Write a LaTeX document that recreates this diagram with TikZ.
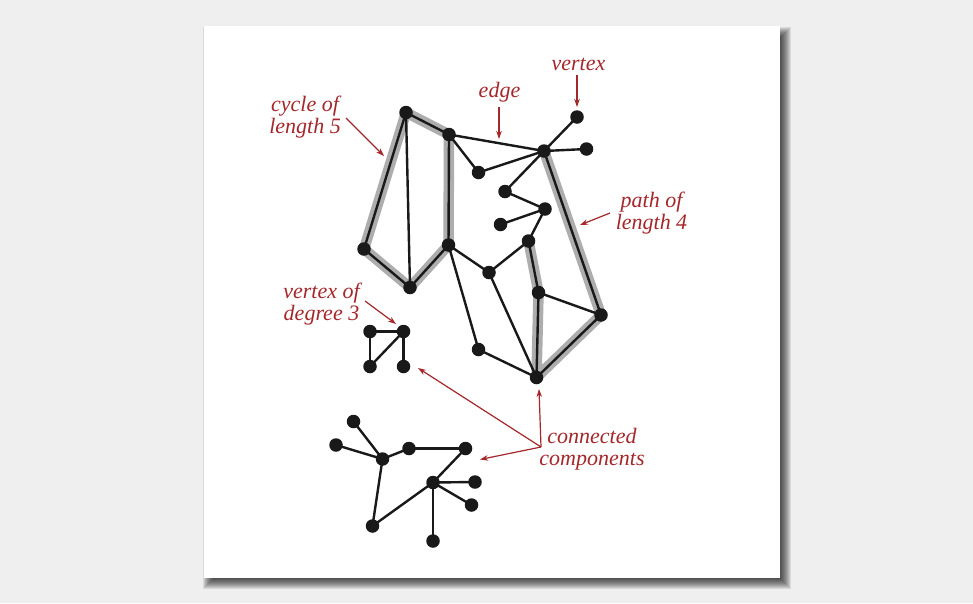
\documentclass[tikz,border=0pt]{standalone}
\usepackage{fontspec}
\setmainfont{Liberation Serif}
\usetikzlibrary{arrows.meta}
\definecolor{pagebg}{HTML}{EFEFEF}
\definecolor{labelred}{HTML}{A3272B}
\definecolor{hlgray}{HTML}{ADADAD}
\pgfdeclarelayer{bg}
\pgfdeclarelayer{hl}
\pgfdeclarelayer{edgelayer}
\pgfsetlayers{bg,hl,edgelayer,main}
\tikzset{
  dot/.style={circle,fill=black!90,inner sep=0pt,minimum size=13.5pt},
  edge/.style={line width=2.4pt,black!90,line cap=round},
  highlight/.style={line width=10.5pt,hlgray,line cap=round,line join=round},
  lbl/.style={text=labelred,align=center,font=\fontsize{22}{22}\selectfont\itshape,inner sep=0pt},
  pointer/.style={labelred,line width=1.2pt,-{Stealth[length=8pt,width=5.5pt]}}
}
\begin{document}
\begin{tikzpicture}[x=1pt,y=-1pt]
\useasboundingbox (0,0) rectangle (973,603);
\begin{pgfonlayer}{bg}
  \fill[pagebg] (0,0) rectangle (973,603);
  % soft drop shadow of the white panel
  \foreach \d in {-4,-3,...,7}{
    \fill[black,opacity=0.09] (204+6-\d,26+8-\d) rectangle (780+4+\d,578+4+\d);
  }
  \fill[white] (204,26) rectangle (780,578);
\end{pgfonlayer}

% main component
\node[dot] (A) at (406,112.5) {};
\node[dot] (B) at (449,134.5) {};
\node[dot] (C) at (364,249) {};
\node[dot] (D) at (410,287.5) {};
\node[dot] (E) at (448.5,245) {};
\node[dot] (F) at (544,151) {};
\node[dot] (G) at (577,117) {};
\node[dot] (H) at (586.5,149) {};
\node[dot] (I) at (478.5,172.5) {};
\node[dot] (J) at (505,191.5) {};
\node[dot] (K) at (545,209) {};
\node[dot] (L) at (500.5,224.5) {};
\node[dot] (M) at (528.5,241) {};
\node[dot] (N) at (489,272.5) {};
\node[dot] (O) at (538.5,292.5) {};
\node[dot] (P) at (601,315) {};
\node[dot] (Q) at (478.5,349.5) {};
\node[dot] (R) at (536.5,377.5) {};

% small component
\node[dot] (S1) at (370,331.5) {};
\node[dot] (S2) at (403.5,331.5) {};
\node[dot] (S3) at (370,366.5) {};
\node[dot] (S4) at (403.5,366.5) {};

% tree component
\node[dot] (T1) at (353.5,421.5) {};
\node[dot] (T2) at (336,445) {};
\node[dot] (T3) at (382.5,459) {};
\node[dot] (T4) at (409,448.5) {};
\node[dot] (T5) at (465.5,448.5) {};
\node[dot] (T6) at (433,482.5) {};
\node[dot] (T7) at (475,482) {};
\node[dot] (T8) at (471.5,505) {};
\node[dot] (T9) at (372.5,526) {};
\node[dot] (T10) at (433,541) {};

\begin{pgfonlayer}{hl}
  % cycle of length 5
  \draw[highlight] (A.center) -- (B.center) -- (E.center) -- (D.center) -- (C.center) -- cycle;
  % path of length 4
  \draw[highlight] (F.center) -- (P.center) -- (R.center) -- (O.center) -- (M.center);
\end{pgfonlayer}

\begin{pgfonlayer}{edgelayer}
  \foreach \u/\v in {A/B,A/C,A/D,C/D,D/E,E/B,B/F,B/I,I/F,F/G,F/H,F/J,J/K,K/L,K/M,
                     M/N,N/E,E/Q,Q/R,N/R,M/O,O/R,O/P,F/P,P/R,
                     S1/S2,S1/S3,S2/S3,S2/S4,
                     T1/T3,T2/T3,T3/T4,T4/T5,T5/T6,T6/T7,T6/T8,T6/T10,T6/T9,T9/T3}
    \draw[edge] (\u.center) -- (\v.center);
\end{pgfonlayer}

% labels
\node[lbl] (cyc) at (305,117) {cycle of\\length 5};
\node[lbl,anchor=base] (edg) at (499.5,97) {edge};
\node[lbl,anchor=base] (vtx) at (578.5,70) {vertex};
\node[lbl] (pth) at (651.5,213) {path of\\length 4};
\node[lbl] (deg) at (321.5,304) {vertex of\\degree 3};
\node[lbl] (cc) at (592,449) {connected\\components};

% pointers
\coordinate (cycS) at (346,118);
\coordinate (cycE) at (384,156);
\coordinate (edgS) at (499,107);
\coordinate (edgE) at (499,139);
\coordinate (vtxS) at (577,75);
\coordinate (vtxE) at (577,107);
\coordinate (pthS) at (610,213);
\coordinate (pthE) at (580,225);
\coordinate (degS) at (365,301);
\coordinate (degE) at (396,324);
\coordinate (ccJ) at (541,447);
\coordinate (ccE1) at (539,389);
\coordinate (ccE2) at (480,459.5);
\coordinate (ccE3) at (418,368);
\draw[pointer] (cycS) -- (cycE);
\draw[pointer] (edgS) -- (edgE);
\draw[pointer] (vtxS) -- (vtxE);
\draw[pointer] (pthS) -- (pthE);
\draw[pointer] (degS) -- (degE);
\draw[pointer] (ccJ) -- (ccE1);
\draw[pointer] (ccJ) -- (ccE2);
\draw[pointer] (ccJ) -- (ccE3);
\end{tikzpicture}
\end{document}
